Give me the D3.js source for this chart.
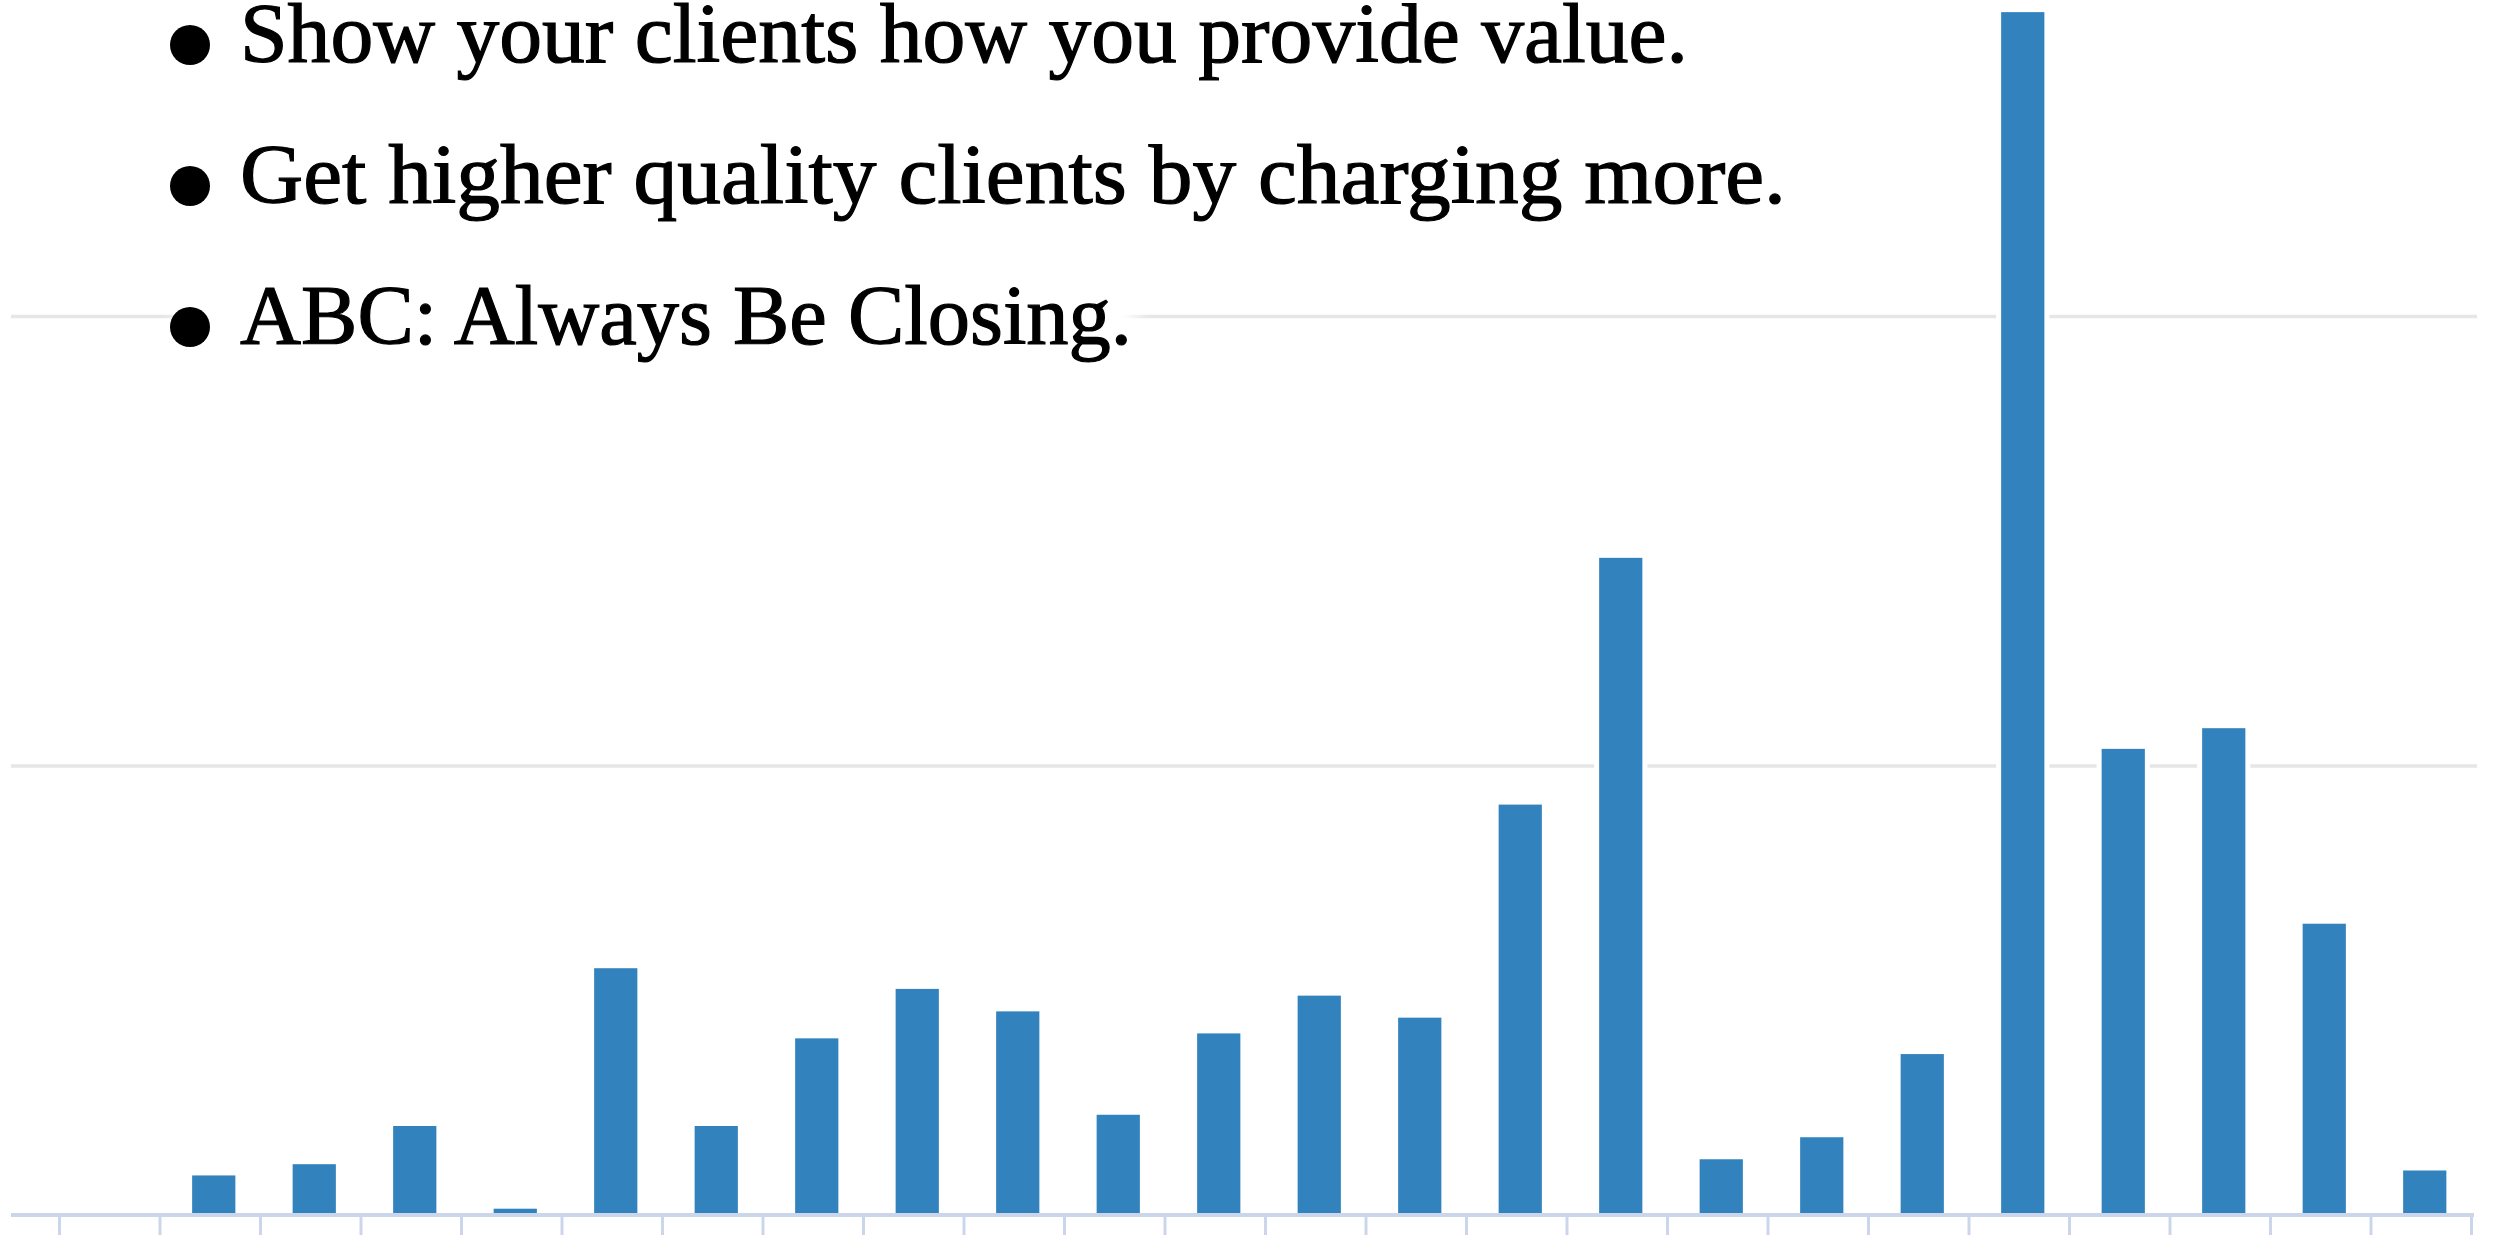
<!DOCTYPE html>
<html>
<head>
<meta charset="utf-8">
<script src="https://cdn.jsdelivr.net/npm/d3@7"></script>
<style>
  html, body { margin: 0; padding: 0; background: #ffffff; overflow: hidden; }
  svg { display: block; }
</style>
</head>
<body>
<script>
// ---- data ----
const categories = ["1","2","3","4","5","6","7","8","9","10","11","12",
                    "13","14","15","16","17","18","19","20","21","22","23","24"];
const values = [0, 0.88, 1.13, 1.98, 0.14, 5.49, 1.98, 3.93, 5.03, 4.53, 2.23, 4.04,
                4.88, 4.39, 9.13, 14.62, 1.24, 1.73, 3.58, 26.76, 10.37, 10.83, 6.48, 0.99];
const gridValues = [10, 20];
const bullets = [
  "Show your clients how you provide value.",
  "Get higher quality clients by charging more.",
  "ABC: Always Be Closing."
];

// ---- layout ----
const W = 2495, H = 1235;
const baseY = 1215;
const xLeft = 59, xRight = 2471;
const barShift = 4;
const pxPerUnit = 44.95;
const yMax = 27;

const svg = d3.select("body").append("svg").attr("width", W).attr("height", H);
const defs = svg.append("defs");
defs.append("filter").attr("id", "soft").attr("x", "-20%").attr("y", "-50%")
  .attr("width", "140%").attr("height", "200%")
  .append("feGaussianBlur").attr("stdDeviation", 9);

const x = d3.scaleBand().domain(categories).range([xLeft + barShift, xRight + barShift])
  .paddingInner(0.57).paddingOuter(0.285);
const xIdx = d3.scaleLinear().domain([0, categories.length]).range([xLeft, xRight]);
const y = d3.scaleLinear().domain([0, yMax]).range([baseY, baseY - yMax * pxPerUnit]);

// gridlines
const grid = svg.append("g").attr("transform", `translate(${xRight + 6},0)`)
  .call(d3.axisLeft(y).tickValues(gridValues).tickSize(xRight + 6 - 11).tickFormat(""));
grid.select(".domain").remove();
grid.selectAll("line").attr("stroke", "#e6e6e6").attr("stroke-width", 3.5);

// soft white background behind third text line
svg.append("rect").attr("x", 178).attr("y", 290).attr("width", 958).attr("height", 62)
  .attr("fill", "#ffffff").attr("filter", "url(#soft)");

// bar halos (white border)
svg.append("g").selectAll("rect").data(values).join("rect")
  .attr("x", (d, i) => x(categories[i]) - 5)
  .attr("width", x.bandwidth() + 10)
  .attr("y", d => y(d) - 5)
  .attr("height", d => Math.max(0, baseY - 2 - (y(d) - 5)))
  .attr("fill", d => d > 0 ? "#ffffff" : "none");

// bars
svg.append("g").selectAll("rect").data(values).join("rect")
  .attr("x", (d, i) => x(categories[i]))
  .attr("width", x.bandwidth())
  .attr("y", d => y(d))
  .attr("height", d => baseY - y(d))
  .attr("fill", "#3182bd");

// x axis
const xAxis = svg.append("g").attr("transform", `translate(0,${baseY})`)
  .call(d3.axisBottom(xIdx).tickValues(d3.range(categories.length + 1)).tickSize(22).tickFormat(""));
xAxis.select(".domain").remove();
xAxis.selectAll("line").attr("stroke", "#ccd6eb").attr("stroke-width", 3);
svg.append("line").attr("x1", 11).attr("x2", xRight + 3).attr("y1", baseY).attr("y2", baseY)
  .attr("stroke", "#ccd6eb").attr("stroke-width", 4);

// bullet text
const baselines = [62, 203, 344];
const widths = [1448, 1546, 892];
const tg = svg.append("g");
bullets.forEach((t, i) => {
  tg.append("circle").attr("cx", 190).attr("cy", baselines[i] - 17).attr("r", 20).attr("fill", "#000");
  tg.append("text").attr("x", 240).attr("y", baselines[i])
    .attr("font-family", "'Liberation Serif', 'DejaVu Serif', serif")
    .attr("font-size", 84)
    .attr("fill", "#000")
    .attr("stroke", "#000")
    .attr("stroke-width", 1.2)
    .attr("textLength", widths[i])
    .attr("lengthAdjust", "spacingAndGlyphs")
    .text(t);
});
</script>
</body>
</html>
